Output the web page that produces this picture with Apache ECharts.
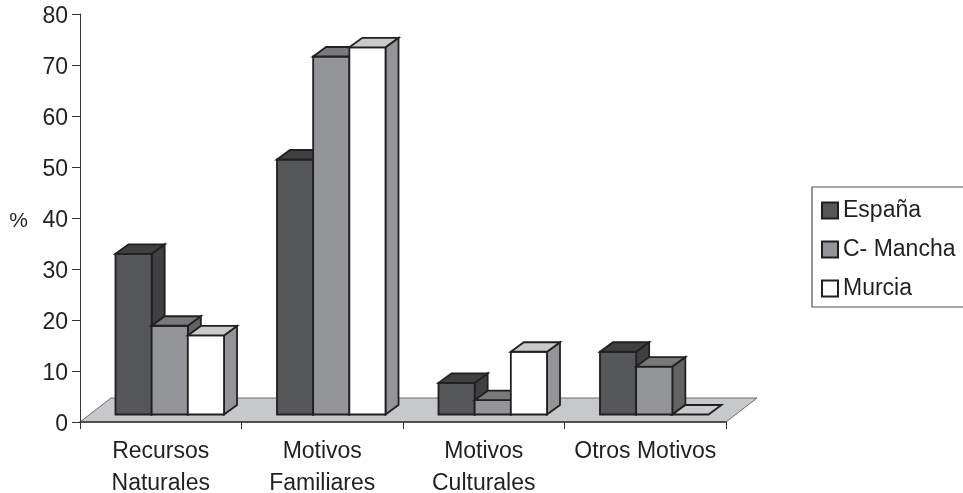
<!DOCTYPE html>
<html>
<head>
<meta charset="utf-8">
<style>html,body{margin:0;padding:0;background:#fff}#c{width:963px;height:493px}</style>
<script src="https://cdn.jsdelivr.net/npm/echarts@6/dist/echarts.min.js"></script>
</head>
<body>
<div id="c"></div>
<script>
const categories = ['Recursos\nNaturales', 'Motivos\nFamiliares', 'Motivos\nCulturales', 'Otros Motivos'];
const espana = [31.5, 50, 6.2, 12.3];
const mancha = [17.4, 70.2, 2.8, 9.4];
const murcia = [15.5, 72, 12.3, 0];
const yTicks = { min: 0, max: 80, interval: 10 };

const INK = '#231f20';
const FONT = '"Liberation Sans", Arial, sans-serif';
const depth = { dx: 13, dy: 9.5 };
const lift = { dx: 9, dy: 7.5 };
const floorDepth = { dx: 31, dy: 24 };
const barShare = 0.224;

const styles = [
  { name: 'España', front: '#555759', side: '#3f4041', top: '#3f4041' },
  { name: 'C- Mancha', front: '#939598', side: '#626365', top: '#77797c' },
  { name: 'Murcia', front: '#ffffff', side: '#939598', top: '#c8cacb' }
];
const seriesValues = [espana, mancha, murcia];

function poly(points, fill) {
  return {
    type: 'polygon',
    shape: { points },
    style: { fill, stroke: INK, lineWidth: 1.8, lineJoin: 'miter' }
  };
}

function barRenderer(seriesIdx) {
  const st = styles[seriesIdx];
  return function (params, api) {
    const cat = api.value(0), val = api.value(1);
    const band = api.size([1, 0])[0];
    const w = band * barShare;
    const c0 = api.coord([cat, 0]);
    const c1 = api.coord([cat, val]);
    const x0 = c0[0] + lift.dx + (seriesIdx - 1.5) * w;
    const x1 = x0 + w;
    const yb = c0[1] - lift.dy;
    const yt = c1[1] - lift.dy;
    const children = [];
    if (val > 0) {
      children.push(poly([[x1, yt], [x1 + depth.dx, yt - depth.dy], [x1 + depth.dx, yb - depth.dy], [x1, yb]], st.side));
      children.push(poly([[x0, yb], [x1, yb], [x1, yt], [x0, yt]], st.front));
    }
    children.push(poly([[x0, yt], [x0 + depth.dx, yt - depth.dy], [x1 + depth.dx, yt - depth.dy], [x1, yt]], st.top));
    return { type: 'group', children };
  };
}

const barSeries = styles.map((st, i) => ({
  name: st.name,
  type: 'custom',
  z: 3,
  clip: false,
  silent: true,
  animation: false,
  itemStyle: { color: st.front, borderColor: INK, borderWidth: 2 },
  encode: { x: 0, y: 1 },
  data: seriesValues[i].map((v, k) => [k, v]),
  renderItem: barRenderer(i)
}));

const floorSeries = {
  name: 'floor',
  type: 'custom',
  z: 1,
  clip: false,
  silent: true,
  animation: false,
  data: [[0, 0]],
  encode: { x: 0, y: 1 },
  renderItem: function (params) {
    const g = params.coordSys;
    const l = g.x, r = g.x + g.width, b = g.y + g.height;
    return {
      type: 'polygon',
      shape: { points: [[l, b], [r, b], [r + floorDepth.dx, b - floorDepth.dy], [l + floorDepth.dx, b - floorDepth.dy]] },
      style: { fill: '#c7c8ca', stroke: '#6d6e71', lineWidth: 1 }
    };
  }
};

const chart = echarts.init(document.getElementById('c'), null, { renderer: 'canvas' });
chart.setOption({
  animation: false,
  backgroundColor: '#ffffff',
  grid: { left: 80, right: 237, top: 14, bottom: 71, containLabel: false, outerBoundsMode: 'none' },
  legend: {
    orient: 'vertical',
    left: 812,
    top: 187,
    padding: [12, 12, 7, 9],
    itemWidth: 16,
    itemHeight: 16,
    itemGap: 16,
    borderColor: '#555555',
    borderWidth: 1.2,
    selectedMode: false,
    textStyle: { fontFamily: FONT, fontSize: 23, color: INK },
    data: styles.map(s => ({ name: s.name, icon: 'rect', itemStyle: { color: s.front, borderColor: INK, borderWidth: 2 } }))
  },
  xAxis: {
    type: 'category',
    z: 2,
    data: categories,
    boundaryGap: true,
    axisLine: { show: true, lineStyle: { color: '#333333', width: 1.5 } },
    axisTick: { show: true, alignWithLabel: false, length: 7, lineStyle: { color: '#333333', width: 1 } },
    axisLabel: { interval: 0, margin: 14, fontFamily: FONT, fontSize: 23, lineHeight: 32, color: INK },
    splitLine: { show: false }
  },
  yAxis: {
    type: 'value',
    z: 2,
    min: yTicks.min,
    max: yTicks.max,
    interval: yTicks.interval,
    name: '{p|%}',
    nameLocation: 'middle',
    nameRotate: 0,
    nameGap: 52,
    nameTextStyle: { rich: { p: { fontFamily: FONT, fontSize: 21, color: INK, padding: [6, 0, 0, 0] } } },
    axisLine: { show: true, lineStyle: { color: '#333333', width: 1 } },
    axisTick: { show: true, length: 8, lineStyle: { color: '#333333', width: 1 } },
    axisLabel: {
      margin: 12,
      formatter: '{t|{value}}',
      rich: { t: { fontFamily: FONT, fontSize: 23, color: INK, padding: [5, 0, 0, 0] } }
    },
    splitLine: { show: false }
  },
  series: [floorSeries].concat(barSeries)
});
</script>
</body>
</html>
